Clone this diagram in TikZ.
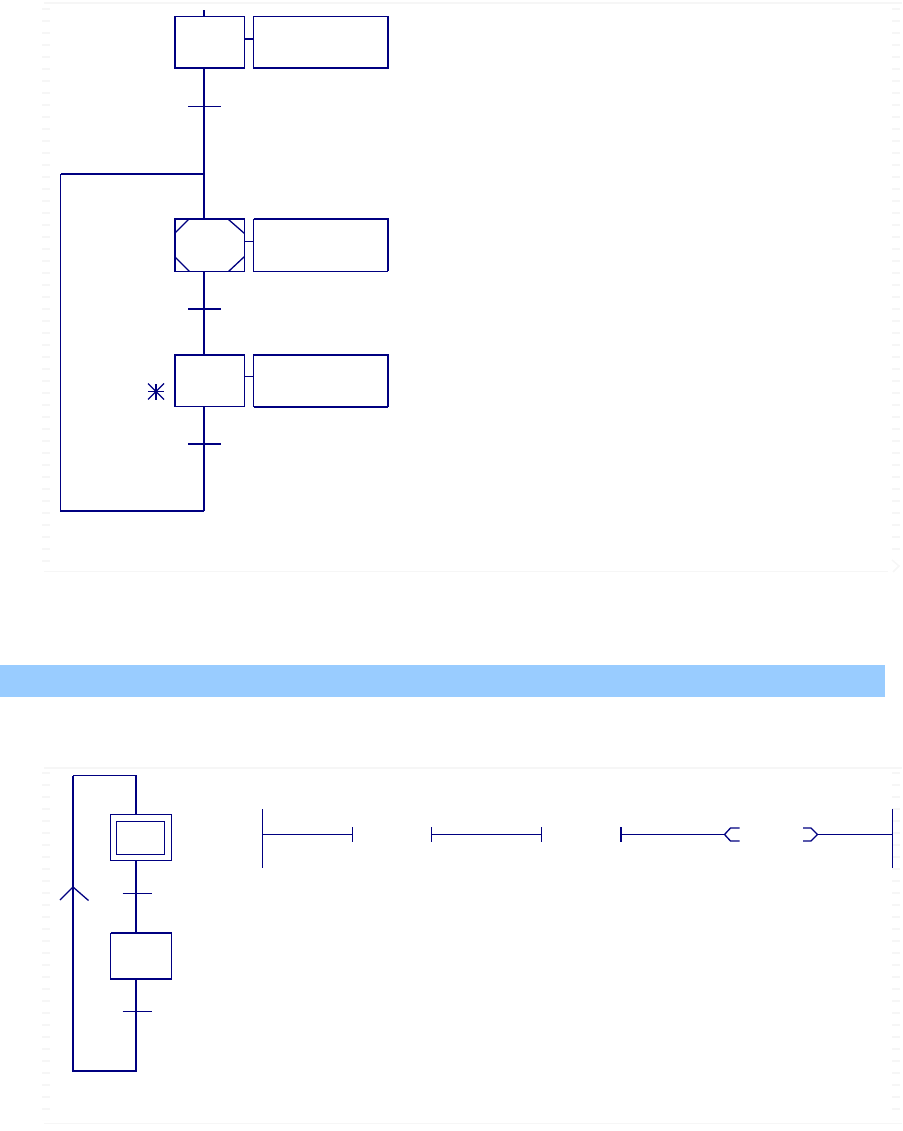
\documentclass[tikz,border=0pt]{standalone}
\definecolor{navyline}{HTML}{000080}
\definecolor{band}{HTML}{99CCFF}
\definecolor{faint}{HTML}{F6F6F6}
\tikzset{
  wire/.style={draw=navyline,line width=2pt},
  thin wire/.style={draw=navyline,line width=1pt},
  diag wire/.style={draw=navyline,line width=1.3pt},
  stepbox/.style={draw=navyline,line width=1pt,fill=white,minimum width=70pt,minimum height=52pt,inner sep=0pt,outer sep=0pt},
  actionbox/.style={draw=navyline,line width=1pt,fill=white,minimum width=134pt,minimum height=52pt,inner sep=0pt,outer sep=0pt},
  smallstep/.style={draw=navyline,line width=1pt,fill=white,minimum width=61pt,minimum height=46pt,inner sep=0pt,outer sep=0pt},
  innerstep/.style={draw=navyline,line width=1pt,minimum width=48pt,minimum height=33pt,inner sep=0pt,outer sep=0pt},
  frameline/.style={draw=faint,line width=1.5pt},
  framedash/.style={draw=faint,line width=8pt,dash pattern=on 2pt off 10pt},
}
\begin{document}
\begin{tikzpicture}[x=1pt,y=-1pt]
\useasboundingbox (0,0) rectangle (902,1131);
% faint page frames
\draw[frameline] (44,3) -- (902,3);
\draw[frameline] (44,571.5) -- (888,571.5);
\draw[frameline] (44,768) -- (902,768);
\draw[frameline] (44,1123.5) -- (902,1123.5);
\draw[framedash] (46,8) -- (46,565);
\draw[framedash] (46,772) -- (46,1120);
\draw[framedash] (896,8) -- (896,560);
\draw[framedash] (896,772) -- (896,1120);
\draw[frameline] (892,560) -- (899,566) -- (893,572);
% band
\fill[band] (0,665) rectangle (885,696.5);
% upper chart
\node[stepbox] (s1) at (209.5,42.5) {};
\node[actionbox] (a1) at (320.5,42.5) {};
\node[stepbox] (s2) at (209.5,245.5) {};
\node[actionbox] (a2) at (320.5,245.5) {};
\node[stepbox] (s3) at (209.5,380.5) {};
\node[actionbox] (a3) at (320.5,380.5) {};
% heavier box edges
\draw[wire,line cap=square] (s1.north west) -- (s1.south west) -- (s1.south east);
\draw[wire,line width=1.5pt,line cap=square] (s1.north west) -- (s1.north east);
\draw[wire,line cap=square] (a1.south west) -- (a1.south east) -- (a1.north east);
\draw[wire,line width=1.5pt,line cap=square] (a1.north west) -- (a1.north east);
\draw[wire,line cap=square] (s2.south west) -- (s2.north west) -- (s2.north east);
\draw[wire,line cap=square] (a2.north west) -- (a2.north east) -- (a2.south east);
\draw[wire,line cap=square] (s3.south west) -- (s3.north west) -- (s3.north east);
\draw[wire,line cap=square] (a3.south east) -- (a3.north east) -- (a3.north west);
\draw[wire,line cap=square] (a3.south west) -- (a3.south east);
\coordinate (top) at (204,10.5);
\coordinate (t1l) at (188,106.5);
\coordinate (t1r) at (221,106.5);
\coordinate (join) at (204,174);
\coordinate (loopa) at (60.5,174);
\coordinate (loopb) at (60.5,511);
\coordinate (loopc) at (204,511);
\coordinate (t2l) at (188,309);
\coordinate (t2r) at (221,309);
\coordinate (t3l) at (188,444);
\coordinate (t3r) at (221,444);
\draw[wire] (top) -- (top |- s1.north);
\draw[wire] (top |- s1.south) -- (join) -- (top |- s2.north);
\draw[wire] (join) -- (loopa);
\draw[wire,line width=1.4pt] (loopa) -- (loopb) -- (loopc);
\draw[wire] (loopc) -- (top |- s3.south);
\draw[wire] (top |- s2.south) -- (top |- s3.north);
\draw[thin wire] (t1l) -- (t1r);
\draw[wire] (t2l) -- (t2r);
\draw[wire] (t3l) -- (t3r);
\draw[wire] (s1.east |- 0,39) -- (a1.west |- 0,39);
\draw[thin wire] (s2.east |- 0,241.5) -- (a2.west |- 0,241.5);
\draw[thin wire] (s3.east |- 0,376.5) -- (a3.west |- 0,376.5);
% cut corners of the macro step
\draw[diag wire] ([yshift=-14pt]s2.north west) -- ([xshift=14pt]s2.north west);
\draw[diag wire] ([yshift=-14pt]s2.north east) -- ([xshift=-16pt]s2.north east);
\draw[diag wire] ([yshift=15pt]s2.south west) -- ([xshift=15pt]s2.south west);
\draw[diag wire] ([yshift=15pt]s2.south east) -- ([xshift=-16pt]s2.south east);
% asterisk
\coordinate (star) at (156,391.5);
\draw[diag wire] ([yshift=-8pt]star) -- ([yshift=8pt]star);
\draw[diag wire] ([xshift=-8pt]star) -- ([xshift=8pt]star);
\draw[diag wire] ([shift={(-8,-8)}]star) -- ([shift={(8,8)}]star);
\draw[diag wire] ([shift={(-8,8)}]star) -- ([shift={(8,-8)}]star);
% lower chart
\node[smallstep] (b1) at (141,837.5) {};
\node[innerstep] (b1i) at (140.5,838) {};
\node[smallstep] (b2) at (141,956) {};
\draw[wire,line cap=square] (b2.north west) -- (b2.north east);
\draw[wire,line cap=square] (b2.south west) -- (b2.south east);
\coordinate (c1) at (136,775.5);
\coordinate (c2) at (73,775.5);
\coordinate (c3) at (73,1071);
\coordinate (c4) at (136,1071);
\coordinate (u1l) at (122.5,893.5);
\coordinate (u1r) at (151.5,893.5);
\coordinate (u2l) at (122.5,1011.5);
\coordinate (u2r) at (151.5,1011.5);
\coordinate (apex) at (73,887);
\draw[thin wire,line width=1.2pt] (c1 |- b1.north) -- (c1) -- (c2);
\draw[wire,line cap=square] (c2) -- (c3) -- (c4) -- (c4 |- b2.south);
\draw[wire] (c1 |- b1.south) -- (c1 |- b2.north);
\draw[thin wire] (u1l) -- (u1r);
\draw[thin wire] (u2l) -- (u2r);
\draw[diag wire] (60,900) -- (apex) -- (88.5,900.5);
% connector symbols
\coordinate (p1) at (262.5,834.5);
\coordinate (p2) at (352.5,834.5);
\draw[thin wire] (p1 |- 0,809) -- (p1 |- 0,868);
\draw[thin wire] (p1) -- (p2);
\draw[thin wire] (p2 |- 0,827) -- (p2 |- 0,842);
\coordinate (q1) at (431.5,834.5);
\coordinate (q2) at (541.5,834.5);
\draw[thin wire] (q1 |- 0,827) -- (q1 |- 0,842);
\draw[thin wire] (q1) -- (q2);
\draw[thin wire] (q2 |- 0,827) -- (q2 |- 0,842);
\coordinate (r1) at (621,834.5);
\coordinate (r2) at (724.5,834.5);
\draw[wire] (r1 |- 0,827) -- (r1 |- 0,842);
\draw[thin wire] (r1) -- (r2);
\draw[diag wire] (739.5,828) -- (730.5,828) -- (r2) -- (730.5,841) -- (739.5,841);
\coordinate (w1) at (817.5,834.5);
\coordinate (w2) at (892.5,834.5);
\draw[diag wire] (803,828) -- (811,828) -- (w1) -- (811,841) -- (803,841);
\draw[thin wire] (w1) -- (w2);
\draw[thin wire] (w2 |- 0,809) -- (w2 |- 0,868);
\end{tikzpicture}
\end{document}
